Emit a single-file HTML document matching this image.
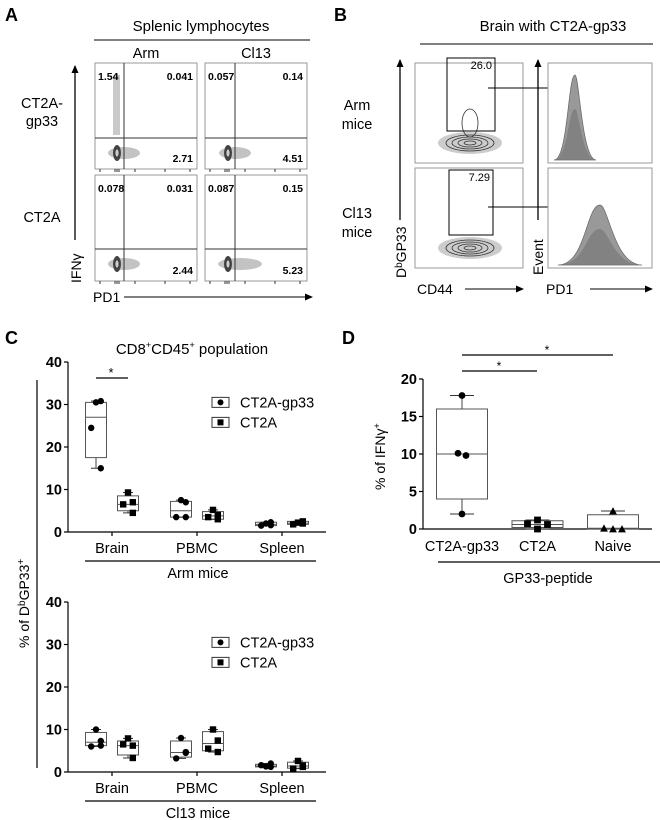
<!DOCTYPE html>
<html><head><meta charset="utf-8"><style>
html,body{margin:0;padding:0;background:#fff}
svg{display:block;font-family:"Liberation Sans",Arial,sans-serif}
.b{font-weight:bold}
</style></head><body>
<svg id="fig" width="660" height="820" viewBox="0 0 660 820" xmlns="http://www.w3.org/2000/svg">
<defs>
<marker id="ah" markerWidth="8" markerHeight="8" refX="7" refY="4" orient="auto" markerUnits="userSpaceOnUse"><path d="M0,0.5 L8,4 L0,7.5 Z" fill="#000"/></marker>
</defs>
<!-- Panel A -->
<g>
<text x="5" y="21" font-size="18" class="b">A</text>
<text x="201" y="31" font-size="15" text-anchor="middle">Splenic lymphocytes</text>
<line x1="94" y1="40" x2="310" y2="40" stroke="#000" stroke-width="1"/>
<text x="146" y="58" font-size="14.5" text-anchor="middle">Arm</text>
<text x="256" y="58" font-size="14.5" text-anchor="middle">Cl13</text>
<text x="42" y="108" font-size="14.5" text-anchor="middle">CT2A-</text>
<text x="42" y="126" font-size="14.5" text-anchor="middle">gp33</text>
<text x="42" y="222" font-size="14.5" text-anchor="middle">CT2A</text>
<line x1="75" y1="240" x2="75" y2="66" stroke="#000" stroke-width="1.3" marker-end="url(#ah)"/>
<text transform="translate(81,283) rotate(-90)" font-size="14">IFNγ</text>
<text x="93" y="302" font-size="14">PD1</text>
<line x1="124" y1="297" x2="312" y2="297" stroke="#000" stroke-width="1.1" marker-end="url(#ah)"/>
<g id="flowA"></g>
</g>
<!-- Panel B -->
<g>
<text x="334" y="21" font-size="18" class="b">B</text>
<text x="553" y="31" font-size="15" text-anchor="middle">Brain with CT2A-gp33</text>
<line x1="420" y1="44" x2="653" y2="44" stroke="#000" stroke-width="1"/>
<text x="357" y="110" font-size="14.5" text-anchor="middle">Arm</text>
<text x="357" y="129" font-size="14.5" text-anchor="middle">mice</text>
<text x="357" y="218" font-size="14.5" text-anchor="middle">Cl13</text>
<text x="357" y="237" font-size="14.5" text-anchor="middle">mice</text>
<line x1="400" y1="220" x2="400" y2="60" stroke="#000" stroke-width="1.3" marker-end="url(#ah)"/>
<text transform="translate(406,278) rotate(-90)" font-size="14">D<tspan font-size="10" dy="-4">b</tspan><tspan dy="4">GP33</tspan></text>
<text x="417" y="294" font-size="14">CD44</text>
<line x1="465" y1="289" x2="523" y2="289" stroke="#000" stroke-width="1.1" marker-end="url(#ah)"/>
<line x1="538" y1="220" x2="538" y2="60" stroke="#000" stroke-width="1.3" marker-end="url(#ah)"/>
<text transform="translate(543,275) rotate(-90)" font-size="14">Event</text>
<text x="546" y="294" font-size="14">PD1</text>
<line x1="590" y1="289" x2="652" y2="289" stroke="#000" stroke-width="1.1" marker-end="url(#ah)"/>
<g id="flowB"></g>
</g>
<!-- Panel C -->
<g>
<text x="5" y="344" font-size="18" class="b">C</text>
<text x="192" y="354" font-size="15" text-anchor="middle">CD8<tspan font-size="9" dy="-6">+</tspan><tspan dy="6">CD45</tspan><tspan font-size="9" dy="-6">+</tspan><tspan dy="6"> population</tspan></text>
<line x1="37" y1="380" x2="37" y2="768" stroke="#000" stroke-width="1.2"/>
<text transform="translate(29,648) rotate(-90)" font-size="14">% of D<tspan font-size="10" dy="-4">b</tspan><tspan dy="4">GP33</tspan><tspan font-size="10" dy="-5">+</tspan></text>
<g id="chartC"></g>
</g>
<!-- Panel D -->
<g>
<text x="342" y="344" font-size="18" class="b">D</text>
<text transform="translate(385,490) rotate(-90)" font-size="14">% of IFNγ<tspan font-size="9" dy="-5">+</tspan></text>
<g id="chartD"></g>
</g>
</svg>
<script>
// ---------- Panel C data ----------
const cCategories = ["Brain", "PBMC", "Spleen"];
const cSeries = ["CT2A-gp33", "CT2A"];
const cTicks = [0, 10, 20, 30, 40];
const armGp33 = [[30.5, 30.8, 24.5, 15], [7.5, 7, 3.5, 3.5], [2, 2.3, 1.5, 1.6]];
const armCt2a = [[9.3, 7, 6.5, 4.5], [5.2, 4, 3.5, 3], [2.2, 2.5, 1.8, 2]];
const armGp33Box = [[17.5, 27, 30.5], [3.5, 5, 7.2], [1.5, 1.8, 2.3]];
const armCt2aBox = [[5, 6.5, 8.5], [3, 3.8, 4.8], [1.8, 2.1, 2.5]];
const cl13Gp33 = [[10, 7.3, 6, 6.2], [8, 4.7, 3.2, 4.5], [1.3, 1.2, 1.6, 2]];
const cl13Ct2a = [[7.9, 6.2, 6.5, 3.3], [10, 7.4, 5.5, 4.7], [2.6, 1.5, 0.8, 1.2]];
const cl13Gp33Box = [[6.2, 7, 9.3], [3.5, 4.6, 7.3], [1.2, 1.4, 1.8]];
const cl13Ct2aBox = [[4, 6.2, 7.3], [5, 6.7, 9.5], [0.9, 1.4, 2.3]];
// ---------- Panel D data ----------
const dCategories = ["CT2A-gp33", "CT2A", "Naive"];
const dTicks = [0, 5, 10, 15, 20];
const dPoints = [[17.8, 10.1, 9.8, 2], [1.2, 0.7, 0.6, 0], [2.4, 0.1, 0, 0]];
const dBox = [[4, 10, 16], [0.2, 0.6, 1.1], [0, 0.1, 1.9]];
const dWhisk = [[2, 17.8], [0, 1.2], [0, 2.4]];

const NS = "http://www.w3.org/2000/svg";
function mk(parent, tag, attrs, text) {
  const e = document.createElementNS(NS, tag);
  for (const k in attrs) e.setAttribute(k, attrs[k]);
  if (text !== undefined) e.textContent = text;
  parent.appendChild(e);
  return e;
}
function marker(g, shape, x, y, r) {
  let e;
  if (shape === "circle") e = mk(g, "circle", {cx: x, cy: y, r: r, fill: "#000"});
  else if (shape === "square") e = mk(g, "rect", {x: x - r, y: y - r, width: 2 * r, height: 2 * r, fill: "#000"});
  else e = mk(g, "path", {d: `M${x},${y - r - 0.5} L${x + r + 0.5},${y + r} L${x - r - 0.5},${y + r} Z`, fill: "#000"});
  return e;
}

function drawC(root, y0px, gp33, ct2a, gp33Box, ct2aBox, groupLabel, name) {
  const g = mk(root, "g", {});
  
  
  const x0 = 68, x1 = 326, yScale = v => y0px - v * 4.25;
  const xCat = i => 112 + i * 85;
  mk(g, "line", {x1: x0, y1: yScale(40), x2: x0, y2: y0px, stroke: "#000", "stroke-width": 1.2});
  mk(g, "line", {x1: x0, y1: y0px, x2: x1, y2: y0px, stroke: "#000", "stroke-width": 1.2});
  cTicks.forEach(t => {
    mk(g, "line", {x1: x0 - 4, y1: yScale(t), x2: x0, y2: yScale(t), stroke: "#000", "stroke-width": 1.2});
    const tl = mk(g, "text", {x: x0 - 6, y: yScale(t) + 5, "font-size": 14.5, "font-weight": "bold", "text-anchor": "end"}, t);
    
    
  });
  cCategories.forEach((c, i) => {
    mk(g, "line", {x1: xCat(i), y1: y0px, x2: xCat(i), y2: y0px + 4, stroke: "#000", "stroke-width": 1.2});
    const cl = mk(g, "text", {x: xCat(i), y: y0px + 21, "font-size": 14.5, "text-anchor": "middle"}, c);
    
    
    [[gp33, gp33Box, -16, "circle"], [ct2a, ct2aBox, 16, "square"]].forEach(([pts, box, off, shp]) => {
      const cx = xCat(i) + off, w = 21;
      const lo = Math.min(...pts[i]), hi = Math.max(...pts[i]);
      mk(g, "line", {x1: cx, y1: yScale(hi), x2: cx, y2: yScale(lo), stroke: "#444", "stroke-width": 1});
      const bx = mk(g, "rect", {x: cx - w / 2, y: yScale(box[i][2]), width: w, height: Math.max(1, yScale(box[i][0]) - yScale(box[i][2])), fill: "#fff", stroke: "#555", "stroke-width": 1});
      
      
      mk(g, "line", {x1: cx - w / 2, y1: yScale(box[i][1]), x2: cx + w / 2, y2: yScale(box[i][1]), stroke: "#555", "stroke-width": 1});
      mk(g, "line", {x1: cx - 5, y1: yScale(hi), x2: cx + 5, y2: yScale(hi), stroke: "#333"});
      mk(g, "line", {x1: cx - 5, y1: yScale(lo), x2: cx + 5, y2: yScale(lo), stroke: "#333"});
      pts[i].forEach((v, k) => {
        const dx = [-6, 6, -6, 6][k] * 0.8;
        const m = marker(g, shp, cx + (k === 0 ? 0 : dx), yScale(v), 3.2);
        
        
      });
    });
  });
  mk(g, "line", {x1: 85, y1: y0px + 29, x2: 316, y2: y0px + 29, stroke: "#000", "stroke-width": 1.2});
  const gl = mk(g, "text", {x: 198, y: y0px + 46, "font-size": 14.5, "text-anchor": "middle"}, groupLabel);
  
  
  const ly = yScale(30.5);
  cSeries.forEach((s, k) => {
    const yy = ly + k * 20;
    const lg = mk(g, "g", {});
    
    
    mk(lg, "rect", {x: 212, y: yy - 5, width: 17, height: 10, fill: "#fff", stroke: "#333"});
    marker(lg, k === 0 ? "circle" : "square", 220.5, yy, 3);
    mk(lg, "text", {x: 240, y: yy + 5, "font-size": 14.5}, s);
  });
}
const chartC = document.getElementById("chartC");
drawC(chartC, 532, armGp33, armCt2a, armGp33Box, armCt2aBox, "Arm mice", "arm-mice-chart");
drawC(chartC, 772, cl13Gp33, cl13Ct2a, cl13Gp33Box, cl13Ct2aBox, "Cl13 mice", "cl13-mice-chart");
mk(chartC, "line", {x1: 96, y1: 378, x2: 128, y2: 378, stroke: "#000", "stroke-width": 1.3});
mk(chartC, "text", {x: 111, y: 377, "font-size": 13, "text-anchor": "middle"}, "*");

(function () {
  const g = document.getElementById("chartD");
  const x0 = 423, x1 = 652, y0 = 529, yS = v => y0 - v * 7.5, xC = i => 462 + i * 75.5;
  mk(g, "line", {x1: x0, y1: yS(20), x2: x0, y2: y0, stroke: "#000", "stroke-width": 1.2});
  mk(g, "line", {x1: x0, y1: y0, x2: x1, y2: y0, stroke: "#000", "stroke-width": 1.2});
  dTicks.forEach(t => {
    mk(g, "line", {x1: x0 - 4, y1: yS(t), x2: x0, y2: yS(t), stroke: "#000", "stroke-width": 1.2});
    const tl = mk(g, "text", {x: x0 - 6, y: yS(t) + 5, "font-size": 14.5, "font-weight": "bold", "text-anchor": "end"}, t);
    
    
  });
  const shapes = ["circle", "square", "triangle"];
  dCategories.forEach((c, i) => {
    const cx = xC(i), w = 51;
    const cl = mk(g, "text", {x: cx, y: 551, "font-size": 14.5, "text-anchor": "middle"}, c);
    
    
    mk(g, "line", {x1: cx, y1: yS(dWhisk[i][1]), x2: cx, y2: yS(dWhisk[i][0]), stroke: "#444"});
    mk(g, "line", {x1: cx - 12, y1: yS(dWhisk[i][1]), x2: cx + 12, y2: yS(dWhisk[i][1]), stroke: "#333"});
    mk(g, "line", {x1: cx - 12, y1: yS(dWhisk[i][0]), x2: cx + 12, y2: yS(dWhisk[i][0]), stroke: "#333"});
    const bx = mk(g, "rect", {x: cx - w / 2, y: yS(dBox[i][2]), width: w, height: Math.max(1, yS(dBox[i][0]) - yS(dBox[i][2])), fill: "#fff", stroke: "#555"});
    
    
    mk(g, "line", {x1: cx - w / 2, y1: yS(dBox[i][1]), x2: cx + w / 2, y2: yS(dBox[i][1]), stroke: "#555"});
    dPoints[i].forEach((v, k) => {
      const off = i === 0 ? [0, -4, 4, 0][k] : (i === 1 ? [0, -10, 10, 0][k] : [0, -9, 0, 9][k]);
      const m = marker(g, shapes[i], cx + off, yS(v), 3.4);
      
      
    });
  });
  mk(g, "line", {x1: 462, y1: 371, x2: 537, y2: 371, stroke: "#000", "stroke-width": 1.2});
  mk(g, "text", {x: 499, y: 370, "font-size": 12, "text-anchor": "middle"}, "*");
  mk(g, "line", {x1: 462, y1: 355, x2: 613, y2: 355, stroke: "#000", "stroke-width": 1.2});
  mk(g, "text", {x: 547, y: 354, "font-size": 12, "text-anchor": "middle"}, "*");
  mk(g, "line", {x1: 438, y1: 562, x2: 660, y2: 562, stroke: "#000", "stroke-width": 1.2});
  const gl = mk(g, "text", {x: 548, y: 583, "font-size": 14.5, "text-anchor": "middle"}, "GP33-peptide");
  
  
})();

(function () {
  const g = document.getElementById("flowA");
  const plots = [
    {x: 95, y: 63, vx: 124, hy: 138, tl: "1.54", tr: "0.041", br: "2.71", col: 1},
    {x: 205, y: 63, vx: 235, hy: 138, tl: "0.057", tr: "0.14", br: "4.51", col: 0},
    {x: 95, y: 175, vx: 124, hy: 249, tl: "0.078", tr: "0.031", br: "2.44", col: 0},
    {x: 205, y: 175, vx: 235, hy: 249, tl: "0.087", tr: "0.15", br: "5.23", col: 0}
  ];
  plots.forEach((p, idx) => {
    const pg = mk(g, "g", {});
    
    
    mk(pg, "rect", {x: p.x, y: p.y, width: 102, height: 106, fill: "#fff", stroke: "#999"});
    const cy = p.hy + 15;
    mk(pg, "ellipse", {cx: p.vx + (idx === 3 ? 5 : 0), cy: cy, rx: 16 + (idx === 3 ? 6 : 0), ry: 6, fill: "#aaa", opacity: 0.7});
    mk(pg, "ellipse", {cx: p.vx - 7, cy: cy, rx: 4, ry: 8, fill: "#444"});
    mk(pg, "ellipse", {cx: p.vx - 7, cy: cy, rx: 2, ry: 4, fill: "#ccc", stroke: "#222", "stroke-width": 0.6});
    if (p.col) mk(pg, "rect", {x: p.vx - 11, y: p.y + 12, width: 7, height: 60, fill: "#bbb", opacity: 0.8});
    mk(pg, "line", {x1: p.vx, y1: p.y, x2: p.vx, y2: p.y + 106, stroke: "#333"});
    mk(pg, "line", {x1: p.x, y1: p.hy, x2: p.x + 102, y2: p.hy, stroke: "#333"});
    mk(pg, "text", {x: p.x + 3, y: p.y + 17, "font-size": 10.5, "font-weight": "bold"}, p.tl);
    mk(pg, "text", {x: p.x + 98, y: p.y + 17, "font-size": 10.5, "font-weight": "bold", "text-anchor": "end"}, p.tr);
    mk(pg, "text", {x: p.x + 98, y: p.y + 99, "font-size": 10.5, "font-weight": "bold", "text-anchor": "end"}, p.br);
    [p.x + 5, p.x + 20, p.x + 22, p.x + 24, p.x + 40, p.x + 70, p.x + 95].forEach(tx =>
      mk(pg, "line", {x1: tx, y1: p.y + 106, x2: tx, y2: p.y + 109, stroke: "#333"}));
  });
})();

(function () {
  const g = document.getElementById("flowB");
  const rows = [
    {y: 63, gx: 447, gy: 58, gw: 48, gh: 73, val: "26.0", peak: 575, spread: 7, h: 85},
    {y: 168, gx: 449, gy: 170, gw: 44, gh: 65, val: "7.29", peak: 600, spread: 14, h: 60}
  ];
  rows.forEach((r, i) => {
    const pg = mk(g, "g", {});
    
    
    mk(pg, "rect", {x: 415, y: r.y, width: 108, height: 100, fill: "#fff", stroke: "#999"});
    mk(pg, "ellipse", {cx: 470, cy: r.y + 80, rx: 32, ry: 11, fill: "#ccc"});
    [[24, 8], [18, 6], [12, 4], [6, 2]].forEach(([rx, ry]) =>
      mk(pg, "ellipse", {cx: 470, cy: r.y + 80, rx: rx, ry: ry, fill: "none", stroke: "#333", "stroke-width": 0.8}));
    if (i === 0) mk(pg, "ellipse", {cx: 470, cy: r.y + 60, rx: 8, ry: 14, fill: "none", stroke: "#333", "stroke-width": 0.8});
    mk(pg, "rect", {x: r.gx, y: r.gy, width: r.gw, height: r.gh, fill: "none", stroke: "#000", "stroke-width": 1});
    mk(pg, "text", {x: r.gx + r.gw - 3, y: r.gy + 11, "font-size": 11, "text-anchor": "end"}, r.val);
    mk(pg, "line", {x1: 488, y1: r.gy + 30 + (i ? 7 : 0), x2: 560, y2: r.gy + 30 + (i ? 7 : 0), stroke: "#000", "stroke-width": 1, "marker-end": "url(#ah)"});
    const hg = mk(g, "g", {});
    
    
    mk(hg, "rect", {x: 548, y: r.y, width: 104, height: 100, fill: "#fff", stroke: "#999"});
    const base = r.y + 97, px = r.peak, s = r.spread;
    mk(hg, "path", {d: `M${px - 3 * s},${base} C${px - s},${base} ${px - s},${base - r.h} ${px},${base - r.h} C${px + s * 0.6},${base - r.h} ${px + s},${base} ${px + 3 * s},${base} Z`, fill: "#999", stroke: "#666", "stroke-width": 0.7});
    mk(hg, "path", {d: `M${px - 3 * s},${base} C${px - s},${base} ${px - s},${base - r.h * 0.6} ${px},${base - r.h * 0.6} C${px + s * 0.6},${base - r.h * 0.6} ${px + s},${base} ${px + 3 * s},${base} Z`, fill: "#777", opacity: 0.7});
  });
})();
</script>
</body></html>
